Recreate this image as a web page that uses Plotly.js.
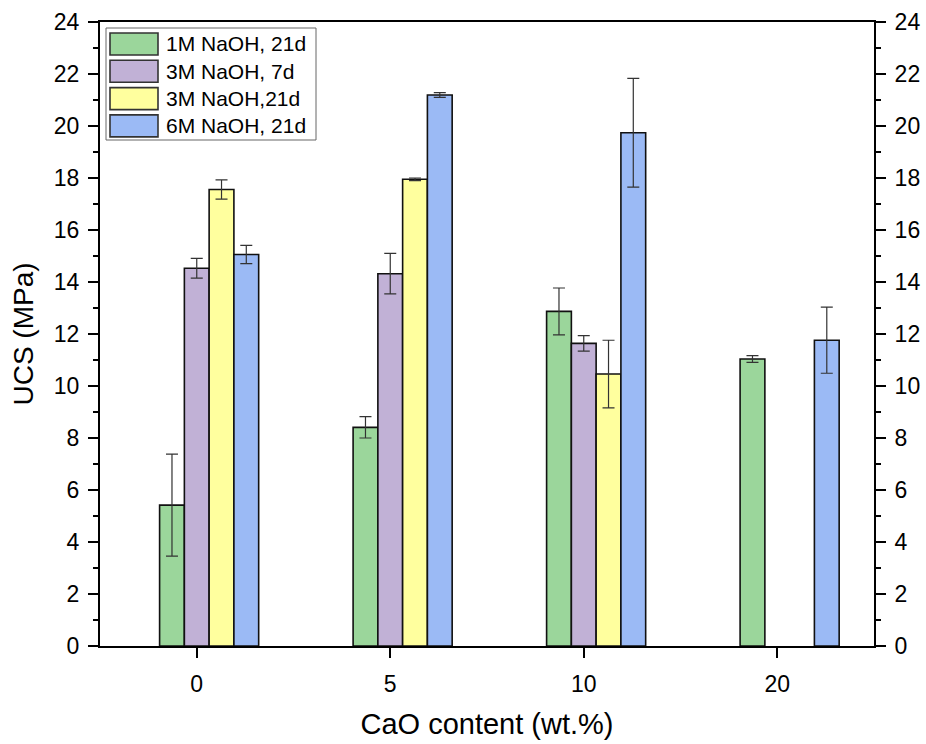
<!DOCTYPE html>
<html>
<head>
<meta charset="utf-8">
<script src="https://cdn.plot.ly/plotly-3.0.1.min.js"></script>
<style>html,body{margin:0;padding:0;background:#fff}#chart{width:926px;height:744px}</style>
</head>
<body>
<div id="chart"></div>
<script>
const categories = ['0', '5', '10', '20'];
const seriesNames = ['1M NaOH, 21d', '3M NaOH, 7d', '3M NaOH,21d', '6M NaOH, 21d'];
const green1M21d = [5.42, 8.41, 12.87, 11.04];
const green1M21dErr = [1.96, 0.41, 0.90, 0.13];
const purple3M7d = [14.53, 14.32, 11.64, null];
const purple3M7dErr = [0.38, 0.78, 0.30, null];
const yellow3M21d = [17.56, 17.95, 10.46, null];
const yellow3M21dErr = [0.37, 0.05, 1.30, null];
const blue6M21d = [15.06, 21.19, 19.74, 11.76];
const blue6M21dErr = [0.35, 0.09, 2.09, 1.27];
const yTicks = [0, 2, 4, 6, 8, 10, 12, 14, 16, 18, 20, 22, 24];

const colors = ['#9bd69b', '#c1b1d6', '#ffff9e', '#9bbaf5'];
const values = [green1M21d, purple3M7d, yellow3M21d, blue6M21d];
const errs = [green1M21dErr, purple3M7dErr, yellow3M21dErr, blue6M21dErr];
const w = 0.128;
const offsets = [-1.5 * w, -0.5 * w, 0.5 * w, 1.5 * w];
const FONT = 'Liberation Sans, Arial, sans-serif';

const traces = values.map((v, i) => ({
  type: 'bar',
  name: seriesNames[i],
  x: categories,
  y: v,
  width: w,
  offset: offsets[i],
  showlegend: false,
  marker: {color: colors[i], line: {color: '#111', width: 1.6}},
  error_y: {type: 'data', array: errs[i], visible: true, color: '#333', thickness: 1.2, width: 6}
}));
// carrier trace so the right-hand mirrored axis is drawn
traces.push({
  type: 'scatter', mode: 'markers', x: categories, y: categories.map(() => null),
  yaxis: 'y2', showlegend: false, hoverinfo: 'skip'
});

// custom legend (pixel layout converted to paper coordinates)
const PL = 100, PR = 874, PT = 22, PB = 646;
const px = v => (v - PL) / (PR - PL);
const py = v => (PB - v) / (PB - PT);
const shapes = [{
  type: 'rect', xref: 'paper', yref: 'paper',
  x0: px(106), x1: px(316), y0: py(140), y1: py(28),
  line: {color: '#666', width: 1}, fillcolor: '#fff', layer: 'above'
}];
const annotations = [];
seriesNames.forEach((name, i) => {
  const c = 44 + 27.3 * i;
  shapes.push({
    type: 'rect', xref: 'paper', yref: 'paper',
    x0: px(110), x1: px(158), y0: py(c + 11), y1: py(c - 11),
    line: {color: '#333', width: 1.6}, fillcolor: colors[i], layer: 'above'
  });
  annotations.push({
    xref: 'paper', yref: 'paper', x: px(164), y: py(c),
    xanchor: 'left', yanchor: 'middle', showarrow: false,
    text: name, font: {family: FONT, size: 21, color: '#000'}
  });
});

const tickFont = {family: FONT, size: 23, color: '#000'};
const yCommon = {
  range: [0, 24], tickvals: yTicks, ticktext: yTicks.map(String),
  showline: true, linecolor: '#000', linewidth: 2,
  ticks: 'outside', ticklen: 10, tickwidth: 2, tickcolor: '#000',
  minor: {dtick: 1, ticks: 'outside', ticklen: 5, tickwidth: 2, tickcolor: '#000', showgrid: false},
  tickfont: tickFont, showgrid: false, zeroline: false, ticklabelstandoff: 4
};

const layout = {
  width: 926, height: 744,
  margin: {l: 100, r: 52, t: 22, b: 98},
  paper_bgcolor: '#fff', plot_bgcolor: '#fff',
  barmode: 'group',
  showlegend: false,
  shapes: shapes,
  annotations: annotations,
  xaxis: {
    type: 'category', range: [-0.5, 3.5],
    showline: true, linecolor: '#000', linewidth: 2, mirror: true,
    ticks: 'outside', ticklen: 10, tickwidth: 2, tickcolor: '#000',
    tickfont: tickFont, showgrid: false, zeroline: false, ticklabelstandoff: 6,
    title: {text: 'CaO content (wt.%)', font: {family: FONT, size: 29, color: '#000'}, standoff: 18}
  },
  yaxis: Object.assign({}, yCommon, {
    title: {text: 'UCS (MPa)', font: {family: FONT, size: 28, color: '#000'}, standoff: 12}
  }),
  yaxis2: Object.assign({}, yCommon, {overlaying: 'y', side: 'right', anchor: 'x'})
};

Plotly.newPlot('chart', traces, layout, {displayModeBar: false, staticPlot: true});
</script>
</body>
</html>
